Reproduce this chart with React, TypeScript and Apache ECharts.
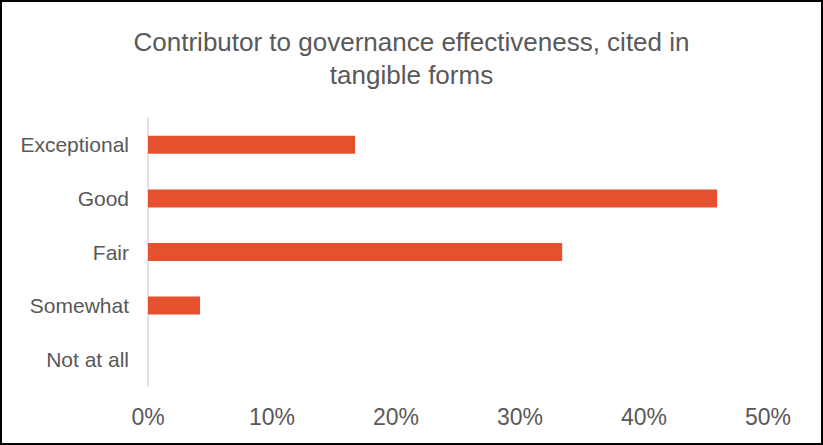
import React, { useEffect, useRef } from "react";
import * as echarts from "echarts";

const titleText = "Contributor to governance effectiveness, cited in\ntangible forms";
const categories = ["Exceptional", "Good", "Fair", "Somewhat", "Not at all"];
const values = [16.7, 45.9, 33.4, 4.2, 0];
const xTicks = [0, 10, 20, 30, 40, 50];

const FONT = "'Liberation Sans', Arial, sans-serif";

export default function App() {
  const ref = useRef<HTMLDivElement>(null);
  useEffect(() => {
    document.body.style.margin = "0";
    const chart = echarts.init(ref.current!, null, { renderer: "svg" });
    chart.setOption({
      animation: false,
      backgroundColor: "#ffffff",
      title: {
        text: titleText,
        left: "center",
        top: 18,
        textStyle: {
          fontFamily: FONT,
          fontSize: 26,
          fontWeight: "normal",
          color: "#595959",
          lineHeight: 33,
        },
      },
      grid: { left: 146, right: 53, top: 116, bottom: 57, containLabel: false },
      xAxis: {
        type: "value",
        min: xTicks[0],
        max: xTicks[xTicks.length - 1],
        interval: 10,
        axisLine: { show: false },
        axisTick: { show: false },
        splitLine: { show: false },
        axisLabel: {
          formatter: (v: number) => v + "%",
          fontFamily: FONT,
          fontSize: 23,
          color: "#595959",
          margin: 19,
        },
      },
      yAxis: {
        type: "category",
        data: categories,
        inverse: true,
        axisLine: { show: true, lineStyle: { color: "#d9d9d9", width: 1.5 } },
        axisTick: { show: false },
        axisLabel: {
          fontFamily: FONT,
          fontSize: 21,
          color: "#595959",
          margin: 19,
        },
      },
      series: [
        {
          type: "bar",
          data: values,
          barWidth: 18,
          itemStyle: { color: "#E5512F" },
        },
      ],
    });
    return () => chart.dispose();
  }, []);
  return (
    <div
      style={{
        position: "absolute",
        left: 0,
        top: 0,
        width: 823,
        height: 445,
        boxSizing: "border-box",
        border: "2px solid #000",
        background: "#fff",
      }}
    >
      <div ref={ref} style={{ width: 819, height: 441 }} />
    </div>
  );
}
